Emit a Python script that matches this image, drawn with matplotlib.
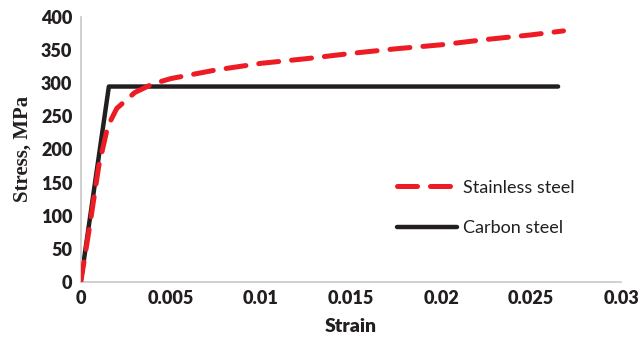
import numpy as np
import matplotlib.pyplot as plt

# Carbon steel: elastic-perfectly plastic
carbon_strain = [0.0, 0.00156, 0.0265]
carbon_stress = [0.0, 295.0, 295.0]

# Stainless steel: rounded, hardening response
ss_strain = [0.0, 0.0005, 0.001, 0.0015, 0.002, 0.003, 0.004, 0.005, 0.0075,
             0.01, 0.0125, 0.015, 0.0175, 0.02, 0.0225, 0.025, 0.0268]
ss_stress = [0.0, 85.0, 175.0, 235.0, 262.0, 286.0, 299.0, 307.0, 320.0,
             330.0, 337.0, 345.0, 352.0, 358.0, 366.0, 373.0, 379.0]

xticks = [0, 0.005, 0.01, 0.015, 0.02, 0.025, 0.03]
xticklabels = ['0', '0.005', '0.01', '0.015', '0.02', '0.025', '0.03']
yticks = [0, 50, 100, 150, 200, 250, 300, 350, 400]

fig = plt.figure(figsize=(6.41, 3.40), dpi=100)
ax = fig.add_axes([0.126, 0.171, 0.843, 0.779])

ax.plot(ss_strain, ss_stress, color='#ed1c24', lw=3.6, ls=(0, (4, 2.6)),
        dash_capstyle='round', label='Stainless steel', zorder=3)
ax.plot(carbon_strain, carbon_stress, color='#231f20', lw=3.2,
        solid_capstyle='round', label='Carbon steel', zorder=2)

ax.set_xlim(0, 0.03)
ax.set_ylim(0, 400)
ax.set_xticks(xticks)
ax.set_xticklabels(xticklabels)
ax.set_yticks(yticks)
ax.tick_params(length=0, labelsize=13, pad=6, colors='#231f20')
for lab in ax.get_xticklabels() + ax.get_yticklabels():
    lab.set_family('Lato')
    lab.set_fontweight('heavy')

for s in ['top', 'right']:
    ax.spines[s].set_visible(False)
for s in ['left', 'bottom']:
    ax.spines[s].set_color('#c8c8c8')
    ax.spines[s].set_linewidth(1.2)

ax.set_xlabel('Strain', family='Lato', fontweight='heavy', fontsize=14,
              color='#231f20', labelpad=8)
ax.set_ylabel('Stress, MPa', family='Liberation Serif', fontweight='bold',
              fontsize=15, color='#231f20', labelpad=6)

leg = ax.legend(loc='center left', bbox_to_anchor=(0.556, 0.28), frameon=False,
                prop={'family': 'Lato', 'size': 13}, handlelength=3.3,
                labelspacing=1.35, handletextpad=0.35)
for t in leg.get_texts():
    t.set_color('#231f20')

fig.savefig('out.png', dpi=100)
